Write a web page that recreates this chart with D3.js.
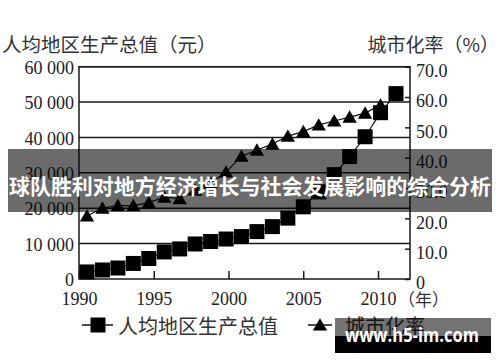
<!DOCTYPE html>
<html lang="zh">
<meta charset="utf-8">
<script src="https://d3js.org/d3.v7.min.js"></script>
<style>
  body { margin: 0; background: #fff; }
  svg { display: block; }
  .num { font-family: "Liberation Serif", "DejaVu Serif", serif; font-size: 18px; fill: #222; }
  .cjk { font-family: "Noto Sans CJK SC", sans-serif; fill: #333; }
</style>
<div id="chart"></div>
<script>
// years on the x axis
var years = [1990, 1991, 1992, 1993, 1994, 1995, 1996, 1997, 1998, 1999, 2000,
             2001, 2002, 2003, 2004, 2005, 2006, 2007, 2008, 2009, 2010];
// 人均地区生产总值 (元), 1990-2010
var gdpPerCapita = [2000, 2550, 3100, 4400, 5800, 7650, 8500, 9900, 10600, 11300, 12000,
                    13400, 14800, 17200, 20400, 24600, 29500, 34600, 40200, 47000, 52400];
// 城市化率 (%), 1990-2009
var urbanRate = [20.8, 23.4, 24.2, 24.2, 25.2, 27.0, 26.5, 29.3, 31.6, 35.3,
                 40.5, 42.5, 44.5, 47.1, 48.6, 50.8, 52.1, 53.4, 54.7, 57.4];
var leftTicks = [0, 10000, 20000, 30000, 40000, 50000, 60000];
var rightTicks = [0, 10, 20, 30, 40, 50, 60, 70];
var yearTicks = [1990, 1995, 2000, 2005, 2010];

var W = 500, H = 362;
var plot = {left: 79, right: 410, top: 66.7, bottom: 279};

var svg = d3.select("#chart").append("svg")
  .attr("width", W).attr("height", H);
svg.append("rect").attr("width", W).attr("height", H).attr("fill", "#fff");

// scales
var yLeft = d3.scaleLinear().domain([0, 60000]).range([plot.bottom, plot.top]);
var yRight = d3.scaleLinear().domain([0, 70]).range([plot.bottom, plot.top]);
var xAxisScale = d3.scaleLinear().domain([1990, 2010]).range([79, 378]);
var x = d3.scaleLinear().domain([1990, 2010]).range([87, 396]);

// gridlines
svg.append("g").selectAll("line")
  .data(leftTicks.filter(function(d) { return d > 0; }))
  .enter().append("line")
    .attr("x1", plot.left).attr("x2", plot.right)
    .attr("y1", function(d) { return yLeft(d); })
    .attr("y2", function(d) { return yLeft(d); })
    .attr("stroke", "#1a1a1a").attr("stroke-width", 1.5);

// frame
svg.append("rect")
  .attr("x", plot.left).attr("y", plot.top)
  .attr("width", plot.right - plot.left).attr("height", plot.bottom - plot.top)
  .attr("fill", "none").attr("stroke", "#1a1a1a").attr("stroke-width", 1.5);

// left axis
var gl = svg.append("g")
  .attr("transform", "translate(" + plot.left + ",0)")
  .call(d3.axisLeft(yLeft).tickValues(leftTicks).tickSize(0).tickPadding(5)
    .tickFormat(function(d) { return d === 0 ? "0" : d3.format(",")(d).replace(",", " "); }));
gl.select(".domain").remove();
gl.selectAll("text").attr("class", "num").attr("y", 1).attr("font-family", null).attr("font-size", null);

// right axis, ticks pointing in
var gr = svg.append("g")
  .attr("transform", "translate(" + plot.right + ",0)")
  .call(d3.axisRight(yRight).tickValues(rightTicks).tickSizeInner(-5).tickSizeOuter(0).tickPadding(6)
    .tickFormat(function(d) { return d === 0 ? "0" : d3.format(".1f")(d); }));
gr.select(".domain").remove();
gr.selectAll("line").attr("stroke", "#1a1a1a").attr("stroke-width", 1.5);
gr.selectAll("text").attr("class", "num").attr("y", 4).attr("font-family", null).attr("font-size", null);

// bottom axis, ticks pointing up
var gb = svg.append("g")
  .attr("transform", "translate(0," + plot.bottom + ")")
  .call(d3.axisBottom(xAxisScale).tickValues(yearTicks).tickSizeInner(-8).tickSizeOuter(0).tickPadding(13)
    .tickFormat(d3.format("d")));
gb.select(".domain").remove();
gb.selectAll("line").attr("stroke", "#1a1a1a").attr("stroke-width", 1.5);
gb.selectAll("text").attr("class", "num").attr("font-family", null).attr("font-size", null);

svg.append("text").attr("class", "cjk")
  .attr("x", 398).attr("y", 298).attr("dominant-baseline", "central")
  .style("font-size", "17px").text("（年）");

// axis titles
svg.append("text").attr("class", "cjk")
  .attr("x", 2).attr("y", 43).attr("dominant-baseline", "central")
  .style("font-size", "19.5px").text("人均地区生产总值（元）");
svg.append("text").attr("class", "cjk")
  .attr("x", 499).attr("y", 43).attr("dominant-baseline", "central").attr("text-anchor", "end")
  .style("font-size", "19px").text("城市化率（%）");

// series lines
var gdpData = years.map(function(y, i) { return {year: y, v: gdpPerCapita[i]}; });
var urbData = urbanRate.map(function(v, i) { return {year: years[i], v: v}; });

svg.append("path").datum(gdpData)
  .attr("fill", "none").attr("stroke", "#111").attr("stroke-width", 1.2)
  .attr("d", d3.line().x(function(d) { return x(d.year); }).y(function(d) { return yLeft(d.v); }));
svg.append("path").datum(urbData)
  .attr("fill", "none").attr("stroke", "#111").attr("stroke-width", 1.2)
  .attr("d", d3.line().x(function(d) { return x(d.year); }).y(function(d) { return yRight(d.v); }));

var square = d3.symbol().type(d3.symbolSquare).size(225);
var triangle = d3.symbol().type(d3.symbolTriangle).size(88);

svg.append("g").selectAll("path")
  .data(urbData).enter().append("path")
    .attr("d", triangle)
    .attr("transform", function(d) { return "translate(" + x(d.year) + "," + (yRight(d.v) + 1.5) + ")"; })
    .attr("fill", "#000");

svg.append("g").selectAll("path")
  .data(gdpData).enter().append("path")
    .attr("d", square)
    .attr("transform", function(d) { return "translate(" + x(d.year) + "," + yLeft(d.v) + ")"; })
    .attr("fill", "#000");

// legend
var lg = svg.append("g").attr("transform", "translate(0,325)");
lg.append("line").attr("x1", 82).attr("x2", 113).attr("stroke", "#111").attr("stroke-width", 1.5);
lg.append("path").attr("d", square).attr("transform", "translate(98,0)").attr("fill", "#000");
lg.append("text").attr("class", "cjk").attr("x", 118).attr("dominant-baseline", "central")
  .style("font-size", "20px").text("人均地区生产总值");
lg.append("line").attr("x1", 308).attr("x2", 332).attr("stroke", "#111").attr("stroke-width", 1.5);
lg.append("path").attr("d", triangle).attr("transform", "translate(320,1.5)").attr("fill", "#000");
lg.append("text").attr("class", "cjk").attr("x", 345).attr("dominant-baseline", "central")
  .style("font-size", "20px").text("城市化率");

// banner overlay
svg.append("rect")
  .attr("x", 8).attr("y", 149).attr("width", 484).attr("height", 63)
  .attr("fill", "rgba(0,0,0,0.58)");
svg.append("text")
  .attr("x", 250).attr("y", 185).attr("text-anchor", "middle").attr("dominant-baseline", "central")
  .attr("textLength", 482).attr("lengthAdjust", "spacingAndGlyphs")
  .style("font-family", "'Noto Sans CJK SC', sans-serif").style("font-weight", "bold")
  .style("font-size", "21px").style("fill", "#fff")
  .text("球队胜利对地方经济增长与社会发展影响的综合分析");

// watermark
svg.append("rect").attr("x", 335).attr("y", 318).attr("width", 156).attr("height", 18)
  .attr("fill", "rgba(0,0,0,0.55)");
svg.append("rect").attr("x", 335).attr("y", 336).attr("width", 156).attr("height", 17)
  .attr("fill", "#000");
svg.append("text")
  .attr("x", 412).attr("y", 342).attr("text-anchor", "middle")
  .attr("textLength", 134).attr("lengthAdjust", "spacingAndGlyphs")
  .style("font-family", "'Open Sans', sans-serif").style("font-weight", "bold")
  .style("font-size", "19px").style("fill", "#fff")
  .text("www.h5-im.com");
</script>
</html>
